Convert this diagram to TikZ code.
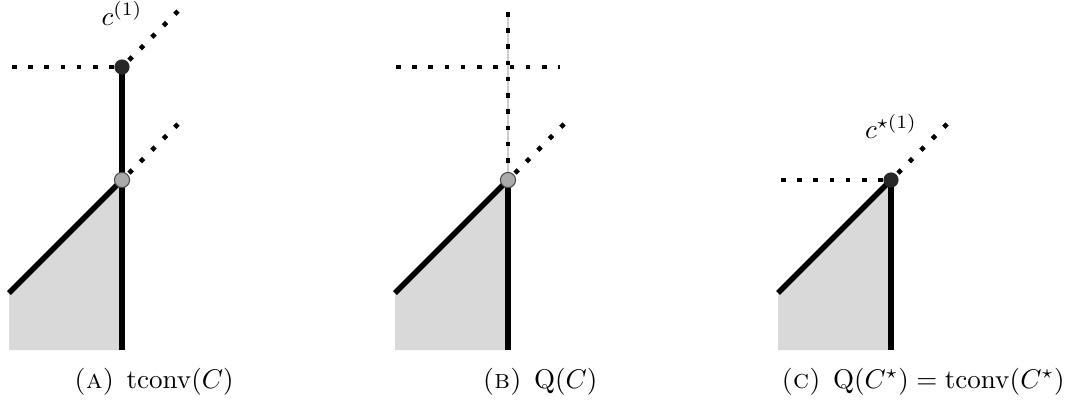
\documentclass[tikz,border=0pt]{standalone}
\usepackage{amsmath,amssymb}
\usepackage{xcolor}
\usepackage{tikz}
\usetikzlibrary{positioning,backgrounds}
\definecolor{fGray}{RGB}{217,217,217}
\definecolor{dDot}{RGB}{40,40,40}
\definecolor{mGray}{RGB}{170,170,170}
\definecolor{lGray}{RGB}{205,205,205}

\begin{document}
\begin{tikzpicture}[x=0.37pt,y=0.37pt,font=\fontsize{10}{12}\selectfont,
  thk/.style={line width=2pt},
  dt/.style={line width=1.7pt,dash pattern=on 1.7pt off 4.3pt},
  ghost/.style={draw=lGray,line width=0.75pt},
  bdot/.style={circle,fill=dDot,inner sep=0pt,minimum size=5.6pt},
  gdot/.style={circle,draw=black!70,fill=mGray,line width=0.4pt,inner sep=0pt,minimum size=5.6pt},
  lbl/.style={anchor=base,inner sep=0pt},
  captxt/.style={anchor=base,inner sep=0pt}]
\useasboundingbox (0,0) rectangle (1068,406);
\def\A{122}\def\B{508}\def\C{891}
% corner points of the three panels
\foreach \p/\x in {A/\A,B/\B,C/\C}{
  \coordinate (\p bot) at (\x,56);
  \coordinate (\p mid) at (\x,226);
  \coordinate (\p ll) at (\x-113,56);
  \coordinate (\p ul) at (\x-113,113);
  \coordinate (\p ray) at (\x+56,282);
}
\coordinate (Atop) at (\A,339);
\coordinate (Aleft) at (\A-110,339);
\coordinate (Aray2) at (\A+56,395);
\coordinate (Bleft) at (\B-112,339);
\coordinate (Bright) at (\B+52,339);
\coordinate (Bup) at (\B,394);
\coordinate (Cleft) at (\C-110,226);
% shaded regions and edges
\foreach \p in {A,B,C}{
  \fill[fGray] (\p ll) -- (\p ul) -- (\p mid) -- (\p bot) -- cycle;
  \draw[thk] (\p ul) -- (\p mid);
  \draw[thk] (\p mid) -- (\p bot);
  \draw[dt] (\p ray) -- (\p mid);
}
% (a)
\draw[thk] (Atop) -- (Amid);
\draw[dt] (Aleft) -- (Atop);
\draw[dt] (Aray2) -- (Atop);
\node[bdot] (a1) at (Atop) {};
\node[gdot] (a0) at (Amid) {};
\node[lbl] (la) at ([yshift=15.5pt]a1.center) {$c^{(1)}$};
% (b)
\draw[ghost] (Bmid) -- (Bup);
\draw[dt] (Bup) -- (Bmid);
\draw[dt] (Bleft) -- (Bright);
\node[gdot] (b0) at (Bmid) {};
% (c)
\draw[dt] (Cleft) -- (Cmid);
\node[bdot] (c1) at (Cmid) {};
\node[lbl] (lc) at ([yshift=15.5pt]c1.center) {$c^{\star(1)}$};
% captions
\node[captxt] (capA) at (\A+32,18) {\textsc{(a)}\hspace{0.45em}$\mathrm{tconv}(C)$};
\node[captxt] (capB) at (\B+32,18) {\textsc{(b)}\hspace{0.45em}$\mathrm{Q}(C)$};
\node[captxt] (capC) at (\C+32,18) {\textsc{(c)}\hspace{0.45em}$\mathrm{Q}(C^\star)=\mathrm{tconv}(C^\star)$};
\end{tikzpicture}
\end{document}
